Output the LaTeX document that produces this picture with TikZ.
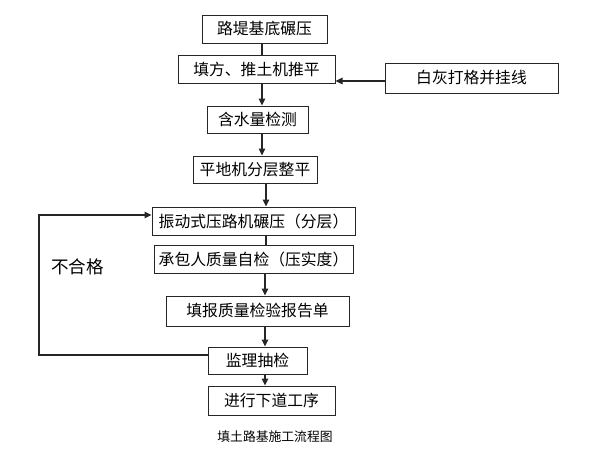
\documentclass[tikz,border=0pt]{standalone}
\usepackage{fontspec}
\setmainfont{Noto Sans CJK SC}
\usetikzlibrary{arrows.meta}
\begin{document}
\begin{tikzpicture}[x=1pt,y=-1pt,
  box/.style={draw=black!85,line width=1pt,rectangle,inner sep=0pt,font=\fontsize{15.8}{15.8}\selectfont},
  conn/.style={draw=black!85,line width=1.1pt},
  arr/.style={conn,-{Triangle[length=7pt,width=6.5pt]}}]
\useasboundingbox (0,0) rectangle (600,450);
\fill[white] (0,0) rectangle (600,450);
\node[box,minimum width=125pt,minimum height=28pt] (b1) at (264.5,29) {路堤基底碾压};
\node[box,minimum width=157pt,minimum height=28pt] (b2) at (256.5,69) {填方、推土机推平};
\node[box,minimum width=101pt,minimum height=27pt] (b3) at (257.5,119.5) {含水量检测};
\node[box,minimum width=124pt,minimum height=27pt] (b4) at (255,169.5) {平地机分层整平};
\node[box,minimum width=203pt,minimum height=28pt] (b5) at (253.5,221) {振动式压路机碾压（分层）};
\node[box,minimum width=199pt,minimum height=28pt] (b6) at (253.5,259) {承包人质量自检（压实度）};
\node[box,minimum width=183pt,minimum height=30pt] (b7) at (257.5,311) {填报质量检验报告单};
\node[box,minimum width=99pt,minimum height=27pt] (b8) at (257.5,360.5) {监理抽检};
\node[box,minimum width=127pt,minimum height=29pt] (b9) at (271.5,400.5) {进行下道工序};
\node[box,minimum width=173pt,minimum height=30pt] (side) at (471.5,78) {白灰打格并挂线};
\node[font=\fontsize{17.5}{17.5}\selectfont] (ng) at (77.5,267) {不合格};
\node[font=\fontsize{12.8}{12.8}\selectfont] (cap) at (275,437) {填土路基施工流程图};
\coordinate (lb) at (39,355);
\coordinate (lt) at (39,215);
\draw[conn] (b1.south -| 262,0) -- (b2.north -| 262,0);
\draw[arr] (b2.south -| 262,0) -- (b3.north -| 262,0);
\draw[arr] (b3.south -| 262,0) -- (b4.north -| 262,0);
\draw[arr] (b4.south -| 266,0) -- (b5.north -| 266,0);
\draw[conn] (b5.south -| 266,0) -- (b6.north -| 266,0);
\draw[arr] (b6.south -| 265,0) -- (b7.north -| 265,0);
\draw[arr] (b7.south -| 265,0) -- (b8.north -| 265,0);
\draw[arr] (b8.south -| 265,0) -- (b9.north -| 265,0);
\draw[arr] ([yshift=-3pt]side.west) -- ([yshift=-3pt]side.west -| b2.east);
\draw[arr] (b8.west |- lb) -- (lb) -- (lt) -- (b5.west |- lt);
\end{tikzpicture}
\end{document}
